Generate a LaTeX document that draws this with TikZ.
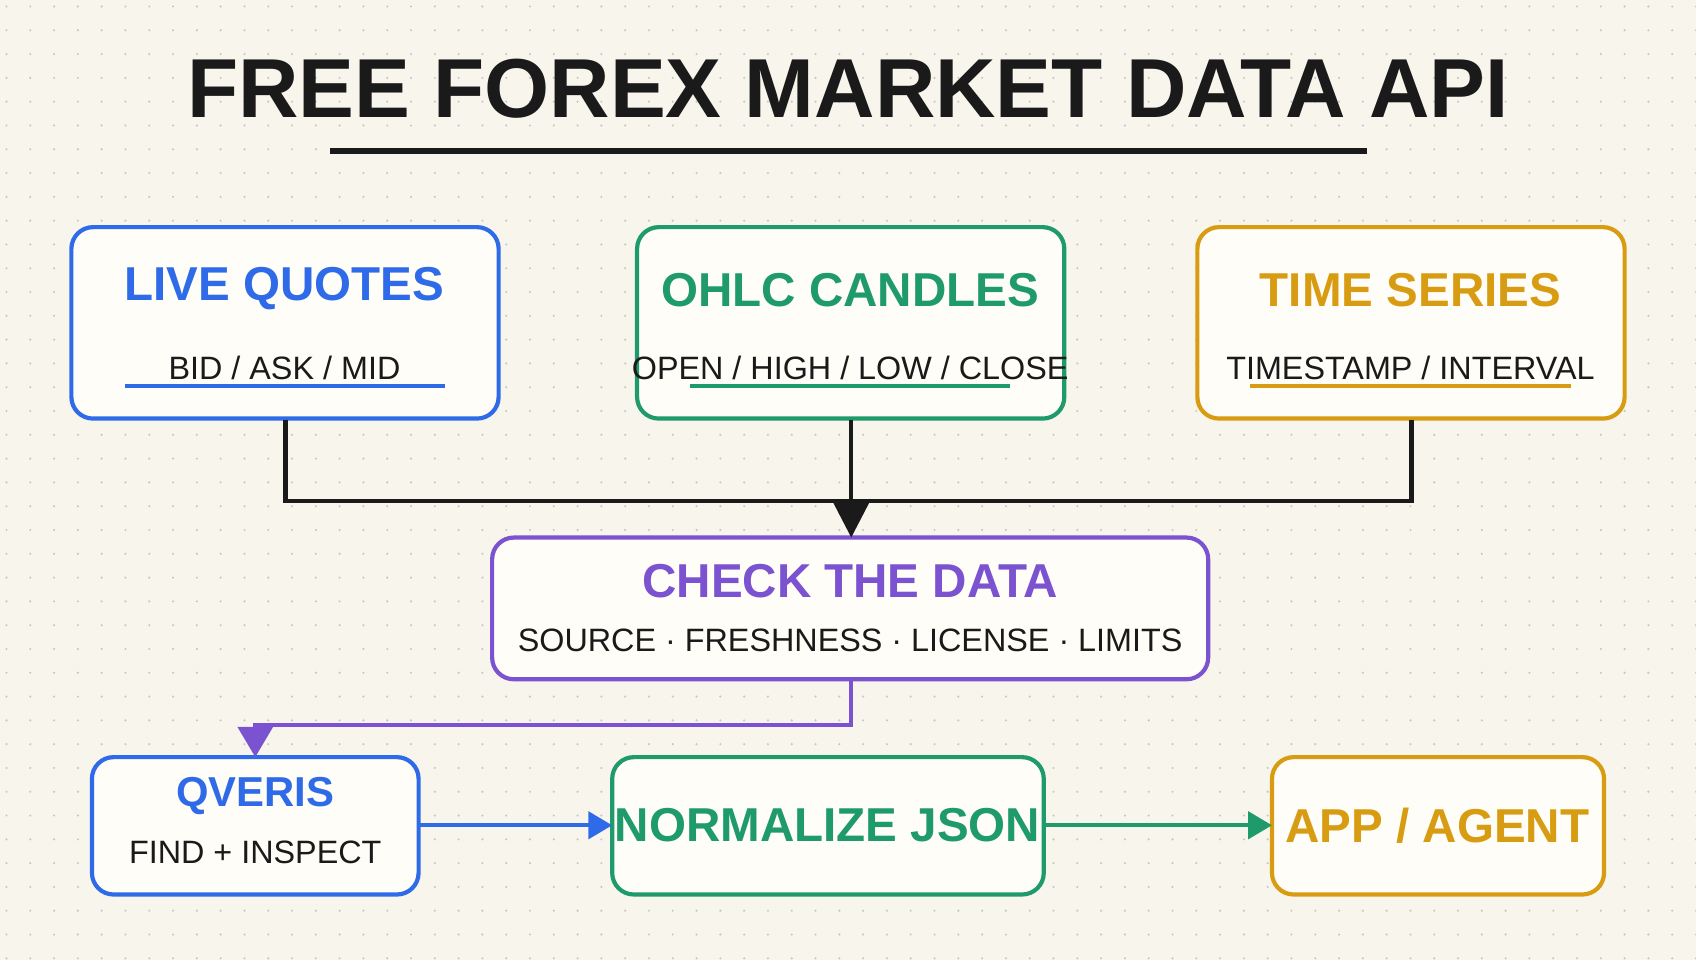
\documentclass[tikz,border=0pt]{standalone}
\usepackage{fontspec}
\setmainfont{Liberation Sans}
\usetikzlibrary{arrows.meta}
\definecolor{bg}{HTML}{F8F5EC}
\definecolor{bfill}{HTML}{FFFDF7}
\definecolor{cblue}{HTML}{2F6BE8}
\definecolor{cgreen}{HTML}{1F9A6A}
\definecolor{cgold}{HTML}{D89C12}
\definecolor{cpurp}{HTML}{7B52CF}
\definecolor{ink}{HTML}{1A1A1A}
\begin{document}
\begin{tikzpicture}[x=0.01cm,y=-0.01cm,
  box/.style={draw=#1,line width=1.1pt,rounded corners=0.2cm,fill=bfill},
  ttl/.style={font=\fontsize{12.5}{14}\selectfont\bfseries,text=#1},
  sub/.style={font=\fontsize{8.5}{10}\selectfont,text=ink},
  conn/.style={line width=1.1pt}]
\fill[bg] (0,0) rectangle (1568,888);
\useasboundingbox (0,0) rectangle (1568,888);
\foreach \i in {0,...,71}{\foreach \j in {0,...,40}{
  \fill[black!22] (6+22*\i,6+22*\j) circle (1.1);}}
\node[font=\fontsize{22}{26}\selectfont\bfseries,text=ink] (title) at (784,82) {FREE FOREX MARKET DATA API};
\draw[ink,line width=1.6pt] (305,140) -- (1264,140);
% top boxes
\draw[box=cblue] (66,210) rectangle (461,387); \node (lq) at (263,298) {};
\node[ttl=cblue] (lqt) at (263,267) {LIVE QUOTES};
\node[sub] (lqs) at (263,340) {BID / ASK / MID};
\draw[cblue,line width=1pt] (116,357) -- (411,357);
\draw[box=cgreen] (589,210) rectangle (984,387);
\node[ttl=cgreen] (oht) at (786,268) {OHLC CANDLES};
\node[sub] (ohs) at (786,340) {OPEN / HIGH / LOW / CLOSE};
\draw[cgreen,line width=1pt] (638,357) -- (934,357);
\draw[box=cgold] (1107,210) rectangle (1502,387);
\node[ttl=cgold] (tst) at (1304,268) {TIME SERIES};
\node[sub] (tss) at (1304,340) {TIMESTAMP / INTERVAL};
\draw[cgold,line width=1pt] (1156,357) -- (1452,357);
% check
\draw[box=cpurp] (455,497) rectangle (1117,628);
\node[ttl=cpurp] (ckt) at (786,537) {CHECK THE DATA};
\node[sub] (cks) at (786,592) {SOURCE · FRESHNESS · LICENSE · LIMITS};
% bottom
\draw[box=cblue] (85,700) rectangle (387,827);
\node[ttl=cblue,font=\fontsize{11}{13}\selectfont\bfseries] (qvt) at (236,736) {QVERIS};
\node[sub] (qvs) at (236,788) {FIND + INSPECT};
\draw[box=cgreen] (566,700) rectangle (965,827);
\node[ttl=cgreen] (nj) at (765,763) {NORMALIZE JSON};
\draw[box=cgold] (1176,700) rectangle (1483,827);
\node[ttl=cgold] (app) at (1329,763) {APP / AGENT};
% connectors
\coordinate (a1) at (264,388); \coordinate (a3) at (1305,388);
\coordinate (a2) at (787,388); \coordinate (ck) at (787,497);
\draw[conn,ink] (a1) |- (787,463) -| (a3);
\draw[conn,ink,-{Triangle[width=0.32cm,length=0.32cm]}] (a2) -- (ck);
\coordinate (c0) at (787,628); \coordinate (q0) at (236,700);
\draw[conn,cpurp,-{Triangle[width=0.32cm,length=0.28cm]}] (c0) -- (787,670) -| (q0);
\coordinate (q1) at (387,763); \coordinate (n0) at (566,763);
\coordinate (n1) at (965,763); \coordinate (p0) at (1176,763);
\draw[conn,cblue,-{Triangle[width=0.25cm,length=0.22cm]}] (q1) -- (n0);
\draw[conn,cgreen,-{Triangle[width=0.25cm,length=0.22cm]}] (n1) -- (p0);
\end{tikzpicture}
\end{document}
